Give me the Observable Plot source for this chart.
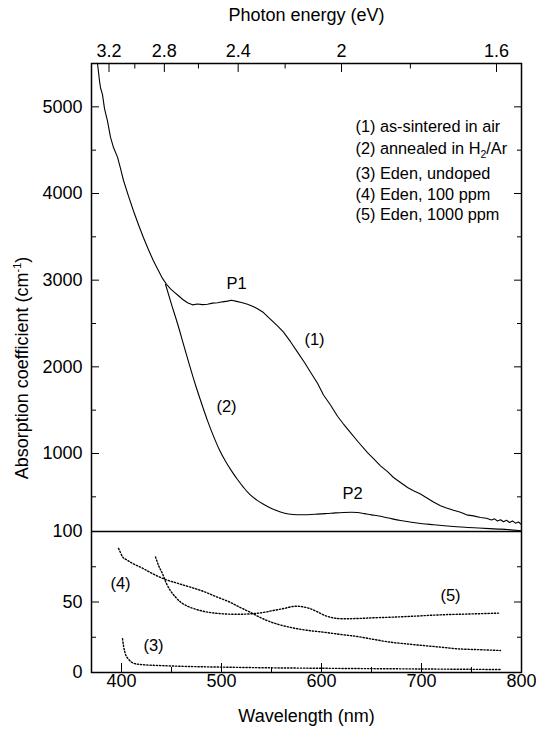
<!DOCTYPE html>
<html>
<head>
<meta charset="utf-8">
<script src="https://cdn.jsdelivr.net/npm/d3@7"></script>
<script src="https://cdn.jsdelivr.net/npm/@observablehq/plot@0.6"></script>
<style>
  html, body { margin: 0; padding: 0; background: #fff; }
</style>
</head>
<body>
<div id="chart"></div>
<script>
// ---- Data (wavelength nm, absorption coefficient cm^-1) ----
const curve1 = [
  [376,5500],[378,5300],[379,5220],[381,5140],[383,4980],[386,4836],[389,4650],[392,4530],
  [396,4420],[399,4290],[402,4150],[407,3970],[412,3798],[417,3640],[422,3490],[427,3350],
  [432,3222],[437,3110],[441,3020],[445,2953],[449,2900],[453,2860],[457,2820],[461,2780],
  [466,2740],[471,2715],[476,2725],[481,2718],[486,2722],[491,2735],[496,2740],[501,2750],
  [506,2758],[510,2768],[515,2755],[520,2742],[526,2722],[531,2700],[536,2670],[542,2626],
  [548,2560],[556,2472],[562,2400],[569,2290],[576,2170],[583,2050],[590,1920],[596,1810],
  [602,1675],[609,1560],[616,1430],[622,1340],[629,1240],[637,1130],[646,1010],[652,940],
  [659,858],[666,790],[672,723],[679,665],[686,608],[692,570],[699,532],[705,490],
  [712,440],[719,397],[725,372],[732,345],[739,322],[745,292],[752,280],[759,262],
  [765,252],[770,232],[773,246],[776,222],[779,236],[782,212],[785,230],[788,204],
  [791,222],[794,196],[797,210],[800,180]
];
const curve2 = [
  [444,2953],[450,2720],[456,2500],[462,2260],[468,2020],[474,1790],[480,1580],[486,1380],
  [492,1200],[498,1040],[504,910],[510,800],[516,700],[522,610],[528,530],[535,465],
  [542,415],[550,365],[559,325],[567,302],[576,293],[586,294],
  [596,300],[606,308],[614,315],[622,320],[630,322],[636,320],[643,306],[650,292],
  [656,282],[667,255],[679,226],[690,206],[701,190],[712,178],[723,166],[735,155],
  [746,147],[757,140],[768,133],[779,127],[789,119],[799,109]
];
const curve3 = [
  [401,24],[402,19],[404,13],[407,9.5],[412,6.6],[420,5.6],[436,5],[460,4.4],
  [502,3.8],[550,3.3],[600,3.0],[636,2.8],[700,2.5],[779,2.1]
];
const curve4 = [
  [397,88],[399,85],[401,82],[405,80],[412,77],[419,74.7],[430,70.5],[442,66.5],
  [455,63.5],[469,60.5],[482,57.5],[496,53.4],[508,50],[519,46],[528,43],[536,40],
  [545,37],[555,34.5],[569,32],[585,30],[602,28.6],[619,27],[636,25.5],[652,23.5],
  [669,21.5],[685,20.3],[702,19.1],[719,18],[736,16.8],[757,16.2],[779,15.6]
];
const curve5 = [
  [434,82],[437,76],[441,70],[445,63],[449,58],[454,53.5],[459,50],[466,47],
  [476,44.5],[489,42.5],[502,41.6],[516,41.3],[529,41.6],[541,42.5],[552,44],[563,45.5],
  [571,46.8],[576,47],[582,46.5],[589,45.2],[596,43],[603,40.5],[609,39.2],[616,38.3],
  [622,38.1],[636,38.3],[652,38.8],[669,39.2],[694,40],[719,40.9],[748,41.5],[777,42.1]
];

// Tick values
const xMajor = [400, 500, 600, 700, 800];
const xMinor = [450, 550, 650, 750];
const energyMajor = [3.2, 2.8, 2.4, 2, 1.6];
const energyMinor = [3.0, 2.6, 2.2, 1.8];
const yMajor = [0, 50, 100, 1000, 2000, 3000, 4000, 5000];
const yMinor = [25, 75, 500, 1500, 2500, 3500, 4500];

// Legend text lines and curve annotations (in data units)
const legendLines = [
  {text: "(1) as-sintered in air", x: 634, y: 4773},
  {text: "(2) annealed in H2/Ar", x: 634, y: 4519},
  {text: "(3) Eden, undoped", x: 634, y: 4231},
  {text: "(4) Eden, 100 ppm", x: 634, y: 3988},
  {text: "(5) Eden, 1000 ppm", x: 634, y: 3758}
];
const annotations = [
  {text: "P1", x: 515, y: 2961},
  {text: "(1)", x: 593, y: 2315},
  {text: "(2)", x: 505, y: 1542},
  {text: "P2", x: 631, y: 538},
  {text: "(4)", x: 399, y: 63},
  {text: "(5)", x: 729, y: 54.5},
  {text: "(3)", x: 432, y: 19}
];

const hc = 1240; // eV·nm
const toObj = (arr) => arr.map(([w, a]) => ({w, a}));

// Broken (two-segment) y axis: 0–100 in the lower panel, 100–5500 in the upper panel
const splitAt = 100, yMax = 5500;
const lowerPx = 141, upperPx = 468; // relative panel heights
const brokenY = v => v <= splitAt ? v * lowerPx / splitAt : lowerPx + (v - splitAt) * upperPx / (yMax - splitAt);
const brokenYInv = p => Math.round(p <= lowerPx ? p * splitAt / lowerPx : splitAt + (p - lowerPx) * (yMax - splitAt) / upperPx);

const W = 536, H = 731;
const font = "'Liberation Sans', Arial, Helvetica, sans-serif";
const dotted = {stroke: "#000", strokeWidth: 1.4, strokeDasharray: "1.3,1.9"};

const chart = Plot.plot({
  width: W,
  height: H,
  marginLeft: 91,
  marginRight: 15,
  marginTop: 63,
  marginBottom: 59,
  style: {fontFamily: font, fontSize: "18px", background: "#fff", color: "#000", overflow: "visible"},
  x: {domain: [370, 800]},
  y: {transform: brokenY, domain: [0, brokenY(yMax)]},
  marks: [
    // curves
    Plot.line(toObj(curve1), {x: "w", y: "a", stroke: "#000", strokeWidth: 1.1}),
    Plot.line(toObj(curve2), {x: "w", y: "a", stroke: "#000", strokeWidth: 1.1, curve: "monotone-x"}),
    Plot.line(toObj(curve3), {x: "w", y: "a", ...dotted, curve: "monotone-x"}),
    Plot.line(toObj(curve4), {x: "w", y: "a", ...dotted, curve: "monotone-x"}),
    Plot.line(toObj(curve5), {x: "w", y: "a", ...dotted, curve: "monotone-x"}),
    // panel separator
    Plot.ruleY([splitAt], {stroke: "#000", strokeWidth: 1.5}),
    Plot.frame({stroke: "#000", strokeWidth: 1.5}),
    // bottom axis
    Plot.axisX({anchor: "bottom", ticks: xMajor, tickSize: -9, tickPadding: 10.5, tickFormat: d => String(d), label: null, fontSize: 18}),
    Plot.axisX({anchor: "bottom", ticks: xMinor, tickSize: -5, tickFormat: () => "", label: null}),
    // top axis (photon energy)
    Plot.axisX({anchor: "top", ticks: energyMajor.map(e => hc / e), tickSize: -8, tickPadding: 14.5,
      tickFormat: d => String(+(hc / d).toFixed(2)), label: null, fontSize: 18}),
    Plot.axisX({anchor: "top", ticks: energyMinor.map(e => hc / e), tickSize: -4.5, tickFormat: () => "", label: null}),
    // left axis (tick positions pass through the broken-axis mapping)
    Plot.axisY({anchor: "left", ticks: yMajor.map(brokenY), tickSize: -8, tickPadding: 17, tickFormat: p => String(brokenYInv(p)), label: null, fontSize: 18}),
    Plot.axisY({anchor: "left", ticks: yMinor.map(brokenY), tickSize: -5, tickFormat: () => "", label: null}),
    // right axis
    Plot.axisY({anchor: "right", ticks: yMajor.map(brokenY), tickSize: -8, tickFormat: () => "", label: null}),
    Plot.axisY({anchor: "right", ticks: yMinor.map(brokenY), tickSize: -5, tickFormat: () => "", label: null}),
    // axis titles
    Plot.text(["Wavelength (nm)"], {frameAnchor: "bottom", dy: 44, textAnchor: "middle", lineAnchor: "middle", fontSize: 18}),
    Plot.text(["Photon energy (eV)"], {frameAnchor: "top", dy: -48, textAnchor: "middle", lineAnchor: "middle", fontSize: 18}),
    Plot.text(["Absorption coefficient (cm-1)"], {frameAnchor: "left", dx: -69, rotate: -90, textAnchor: "middle", lineAnchor: "middle", fontSize: 18}),
    // legend
    Plot.text(legendLines, {x: "x", y: "y", text: "text", textAnchor: "start", lineAnchor: "middle", fontSize: 16.3}),
    // annotations
    Plot.text(annotations, {x: "x", y: "y", text: "text", textAnchor: "middle", lineAnchor: "middle", fontSize: 16.5})
  ]
});

document.getElementById("chart").appendChild(chart);

// Subscript / superscript formatting as real text
d3.select(chart).selectAll("text").each(function () {
  const el = d3.select(this);
  const t = this.textContent;
  if (t === "(2) annealed in H2/Ar") {
    el.text(null);
    el.append("tspan").text("(2) annealed in H");
    el.append("tspan").attr("dy", "4").attr("font-size", "10.5").text("2");
    el.append("tspan").attr("dy", "-4").text("/Ar");
  } else if (t === "Absorption coefficient (cm-1)") {
    el.text(null);
    el.append("tspan").text("Absorption coefficient (cm");
    el.append("tspan").attr("dy", "-7").attr("font-size", "11").text("-1");
    el.append("tspan").attr("dy", "7").text(")");
  }
});
</script>
</body>
</html>
